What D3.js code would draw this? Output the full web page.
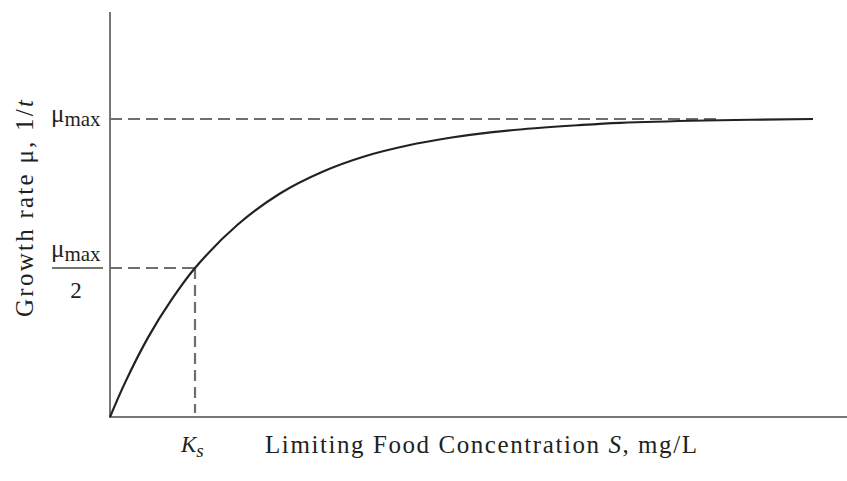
<!DOCTYPE html>
<html>
<head>
<meta charset="utf-8">
<script src="https://cdn.jsdelivr.net/npm/d3@7"></script>
<style>
  body { margin: 0; background: #fff; }
  svg { display: block; }
  text { font-family: "Liberation Serif", "DejaVu Serif", serif; fill: #231f20; }
</style>
</head>
<body>
<svg id="chart" width="847" height="481"></svg>
<script>
// Curve: S in units of Ks, mu in units of mu_max
const sValues  = [0, 0.18, 0.45, 0.73, 1.0, 1.5, 2.0, 2.5, 3.0, 3.5, 4.0, 4.5, 5.0, 5.5, 6.0, 7.0, 8.27];
const muValues = [0, 0.117, 0.268, 0.396, 0.5, 0.645, 0.75, 0.823, 0.875, 0.911, 0.937, 0.956, 0.969, 0.979, 0.987, 0.995, 1.0];

// reference marks
const ksValue = 1;      // half-saturation constant
const muMax = 1;        // maximum growth rate
const xLabel = ["Limiting Food Concentration ", "S", ", mg/L"];
const yLabel = ["Growth rate \u03bc, 1/", "t"];

const svg = d3.select("#chart");

// Scales
const x = d3.scaleLinear().domain([0, 8.27]).range([110, 813]);
const y = d3.scaleLinear().domain([0, 1]).range([417, 119]);

const axisColor = "#777";
const dashColor = "#6e6e6e";

// Axes (plain lines, no ticks)
svg.append("line")
  .attr("x1", x(0)).attr("x2", 847)
  .attr("y1", y(0)).attr("y2", y(0))
  .attr("stroke", axisColor).attr("stroke-width", 2);

svg.append("line")
  .attr("x1", x(0)).attr("x2", x(0))
  .attr("y1", y(0) + 1).attr("y2", 12)
  .attr("stroke", axisColor).attr("stroke-width", 2);

// Dashed guides
svg.append("line")
  .attr("x1", x(0)).attr("x2", x(7.2))
  .attr("y1", y(muMax)).attr("y2", y(muMax))
  .attr("stroke", dashColor).attr("stroke-width", 2.2)
  .attr("stroke-dasharray", "12,6");

svg.append("line")
  .attr("x1", x(0)).attr("x2", x(ksValue))
  .attr("y1", y(muMax / 2)).attr("y2", y(muMax / 2))
  .attr("stroke", dashColor).attr("stroke-width", 2.2)
  .attr("stroke-dasharray", "12,6");

svg.append("line")
  .attr("x1", x(ksValue)).attr("x2", x(ksValue))
  .attr("y1", y(muMax / 2)).attr("y2", y(0) - 4)
  .attr("stroke", dashColor).attr("stroke-width", 2.2)
  .attr("stroke-dasharray", "11,6");

// Growth curve
const pts = sValues.map((s, i) => [s, muValues[i]]);
const line = d3.line()
  .x(d => x(d[0]))
  .y(d => y(d[1]))
  .curve(d3.curveCatmullRom.alpha(0.5));

svg.append("path")
  .datum(pts)
  .attr("d", line)
  .attr("fill", "none")
  .attr("stroke", "#222")
  .attr("stroke-width", 2.2);

// mu_max label
const muTop = svg.append("text")
  .attr("x", 51).attr("y", y(muMax) + 3)
  .style("font-size", "25px");
muTop.append("tspan").text("\u03bc");
muTop.append("tspan").attr("dy", 4).style("font-size", "21px").text("max");

// mu_max / 2 label
const muHalf = svg.append("text")
  .attr("x", 51).attr("y", y(muMax / 2) - 11)
  .style("font-size", "25px");
muHalf.append("tspan").text("\u03bc");
muHalf.append("tspan").attr("dy", 4).style("font-size", "21px").text("max");

svg.append("line")
  .attr("x1", 52).attr("x2", 103)
  .attr("y1", y(muMax / 2)).attr("y2", y(muMax / 2))
  .attr("stroke", "#444").attr("stroke-width", 1.6);

svg.append("text")
  .attr("x", 76).attr("y", y(muMax / 2) + 30)
  .attr("text-anchor", "middle")
  .style("font-size", "23px")
  .text("2");

// Ks label
const ks = svg.append("text")
  .attr("x", x(ksValue) - 14).attr("y", 452)
  .style("font-size", "23px")
  .style("font-style", "italic");
ks.append("tspan").text("K");
ks.append("tspan").attr("dy", 5).style("font-size", "19px").text("s");

// X axis title
const xt = svg.append("text")
  .attr("x", 265).attr("y", 453)
  .attr("textLength", 432)
  .attr("lengthAdjust", "spacing")
  .style("font-size", "25px");
xt.append("tspan").text(xLabel[0]);
xt.append("tspan").style("font-style", "italic").text(xLabel[1]);
xt.append("tspan").text(xLabel[2]);

// Y axis title
const yt = svg.append("text")
  .attr("transform", "translate(33,317) rotate(-90)")
  .attr("textLength", 217)
  .attr("lengthAdjust", "spacing")
  .style("font-size", "25px");
yt.append("tspan").text(yLabel[0]);
yt.append("tspan").style("font-style", "italic").text(yLabel[1]);
</script>
</body>
</html>
